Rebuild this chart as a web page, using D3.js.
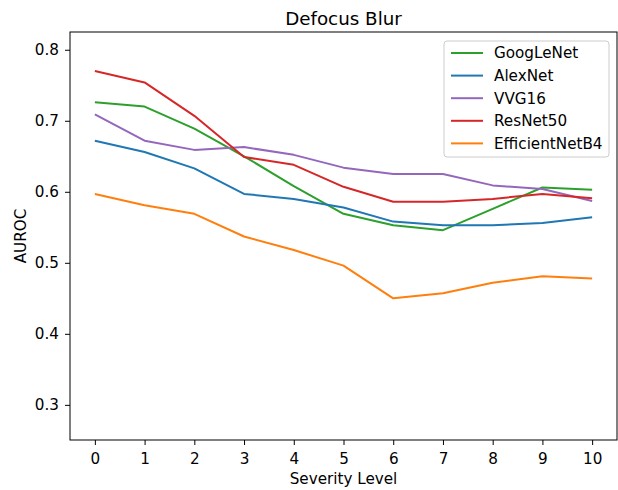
<!DOCTYPE html>
<html>
<head>
<meta charset="utf-8">
<script src="https://cdn.jsdelivr.net/npm/d3@7"></script>
<style>
  body { margin: 0; background: #fff; }
  svg text { font-family: "DejaVu Sans", sans-serif; fill: #000; }
</style>
</head>
<body>
<div class="vis-chart"></div>
<script>
const levels = [0, 1, 2, 3, 4, 5, 6, 7, 8, 9, 10];
const googlenet = [0.726, 0.720, 0.689, 0.650, 0.608, 0.569, 0.553, 0.546, 0.576, 0.606, 0.603];
const alexnet = [0.672, 0.656, 0.633, 0.597, 0.590, 0.578, 0.558, 0.553, 0.553, 0.556, 0.564];
const vvg16 = [0.709, 0.672, 0.659, 0.663, 0.652, 0.634, 0.625, 0.625, 0.609, 0.604, 0.587];
const resnet50 = [0.770, 0.754, 0.707, 0.649, 0.638, 0.607, 0.586, 0.586, 0.590, 0.597, 0.591];
const efficientnetb4 = [0.597, 0.581, 0.569, 0.537, 0.518, 0.496, 0.450, 0.457, 0.472, 0.481, 0.478];
const yTicks = [0.3, 0.4, 0.5, 0.6, 0.7, 0.8];

const series = [
    {name: "GoogLeNet", values: googlenet, color: "#2ca02c"},
    {name: "AlexNet", values: alexnet, color: "#1f77b4"},
    {name: "VVG16", values: vvg16, color: "#9467bd"},
    {name: "ResNet50", values: resnet50, color: "#d62728"},
    {name: "EfficientNetB4", values: efficientnetb4, color: "#ff7f0e"}
];

const draw = () => {
    const W = 618, H = 490;
    const margin = {top: 32, right: 1, bottom: 50, left: 70};
    const width = W - margin.left - margin.right;
    const height = H - margin.top - margin.bottom;
    const fs = "15.2px";

    const svg = d3.select(".vis-chart")
                .append("svg")
                .attr("width", W)
                .attr("height", H);
    const g = svg.append("g")
                .attr("transform", "translate(" + margin.left + "," + margin.top + ")");

    const xScale = d3.scaleLinear().domain([-0.5, 10.5]).range([0, width]);
    const yScale = d3.scaleLinear().domain([0.2505, 0.825]).range([height, 0]);

    // axes
    const xAxis = g.append("g")
                .attr("transform", "translate(0," + height + ")")
                .call(d3.axisBottom(xScale).tickValues(levels).tickFormat(d3.format("d")).tickSize(5).tickPadding(8));
    const yAxis = g.append("g")
                .call(d3.axisLeft(yScale).tickValues(yTicks).tickFormat(d3.format(".1f")).tickSize(5).tickPadding(6));
    [xAxis, yAxis].forEach(a => {
        a.select(".domain").remove();
        a.selectAll("text").style("font-size", fs).style("font-family", "DejaVu Sans");
        a.selectAll("line").attr("stroke", "#000").attr("stroke-width", 1);
    });

    // lines
    const line = d3.line()
                .x((d, i) => xScale(levels[i]))
                .y(d => yScale(d));
    g.selectAll(".series")
        .data(series)
        .enter().append("path")
        .attr("fill", "none")
        .attr("stroke", d => d.color)
        .attr("stroke-width", 2)
        .attr("stroke-linejoin", "round")
        .attr("d", d => line(d.values));

    // frame
    g.append("rect")
        .attr("width", width).attr("height", height)
        .attr("fill", "none").attr("stroke", "#000").attr("stroke-width", 1);

    // title and labels
    svg.append("text")
        .attr("x", margin.left + width / 2).attr("y", 25)
        .attr("text-anchor", "middle").style("font-size", "18.3px")
        .text("Defocus Blur");
    svg.append("text")
        .attr("x", margin.left + width / 2).attr("y", 484)
        .attr("text-anchor", "middle").style("font-size", fs)
        .text("Severity Level");
    svg.append("text")
        .attr("transform", "translate(26," + (margin.top + height / 2) + ") rotate(-90)")
        .attr("text-anchor", "middle").style("font-size", fs)
        .text("AUROC");

    // legend
    const lg = svg.append("g").attr("transform", "translate(444,41)");
    lg.append("rect")
        .attr("width", 165).attr("height", 116).attr("rx", 3)
        .attr("fill", "#fff").attr("fill-opacity", 0.8)
        .attr("stroke", "#ccc").attr("stroke-width", 1);
    const items = lg.selectAll(".item")
        .data(series)
        .enter().append("g")
        .attr("transform", (d, i) => "translate(0," + (12 + i * 22.6) + ")");
    items.append("line")
        .attr("x1", 7).attr("x2", 39)
        .attr("stroke", d => d.color).attr("stroke-width", 2);
    items.append("text")
        .attr("x", 50).attr("dy", "0.35em")
        .style("font-size", fs)
        .text(d => d.name);
};

draw();
</script>
</body>
</html>
